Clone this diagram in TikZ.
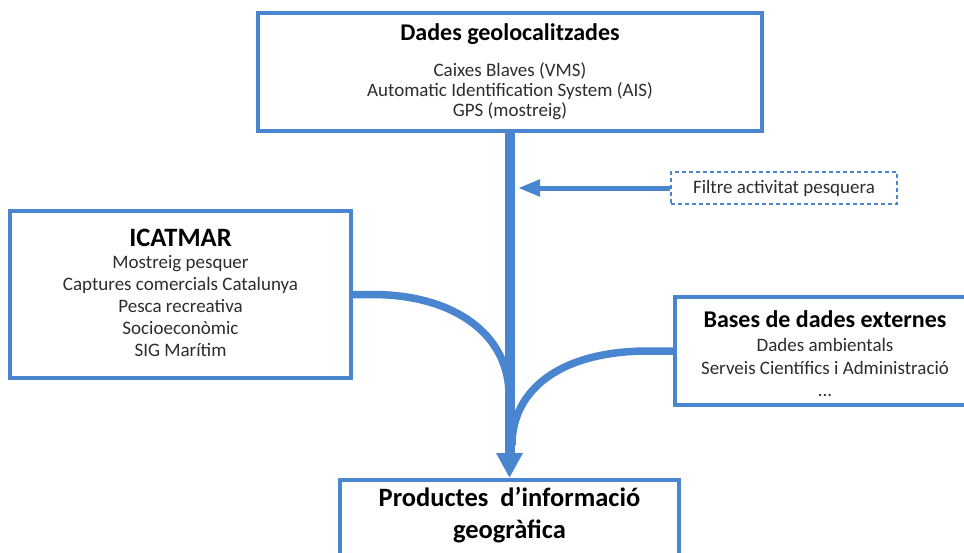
\documentclass[tikz,border=0pt]{standalone}
\usepackage{fontspec}
\setmainfont{Carlito}
\usetikzlibrary{arrows.meta,calc}
\definecolor{fblue}{RGB}{74,134,208}
\definecolor{txt}{RGB}{45,45,45}
\begin{document}
\begin{tikzpicture}[x=1pt,y=-1pt,
  box/.style={draw=fblue,line width=3.5pt,fill=white,inner sep=0pt},
  dbox/.style={draw=fblue,line width=1.2pt,dash pattern=on 4pt off 3pt,fill=white,inner sep=0pt},
  ttl/.style={font=\fontsize{24}{28}\selectfont\bfseries,text=black,inner sep=0pt},
  bigttl/.style={font=\fontsize{26.5}{32}\selectfont\bfseries,text=black,inner sep=0pt,align=center},
  body/.style={font=\fontsize{19}{21}\selectfont,text=txt,inner sep=0pt,align=center},
  flow/.style={draw=fblue,line width=7.5pt},
  mainflow/.style={draw=fblue,line width=10pt,-{Triangle[width=25pt,length=25pt]}},
  filt/.style={draw=fblue,line width=5pt,-{Triangle[width=16pt,length=22pt]}}
]
\useasboundingbox (0,0) rectangle (964,552);
\clip (0,0) rectangle (964,552);
\fill[white] (0,0) rectangle (964,552);

% boxes
\node[box,minimum width=504pt,minimum height=118pt] (top) at (510,72) {};
\node[box,minimum width=341pt,minimum height=167pt] (icat) at (180.5,294.5) {};
\node[box,minimum width=300pt,minimum height=108pt] (bases) at (825,351) {};
\node[box,minimum width=339pt,minimum height=110pt,anchor=north] (bot) at (509.5,478) {};
\node[dbox,minimum width=226pt,minimum height=32pt] (filtre) at (784,188) {};

% texts
\node[ttl] (toptitle) at (510,34) {Dades geolocalitzades};
\node[body,font=\fontsize{19}{20}\selectfont] (topbody) at (510,91) {Caixes Blaves (VMS)\\Automatic Identification System (AIS)\\GPS (mostreig)};
\node[bigttl] (icattitle) at (180.5,237.5) {ICATMAR};
\node[body,font=\fontsize{19}{22}\selectfont] (icatbody) at (180.5,306) {Mostreig pesquer\\Captures comercials Catalunya\\Pesca recreativa\\Socioeconòmic\\SIG Marítim};
\node[ttl] (basestitle) at (825,319) {Bases de dades externes};
\node[body,font=\fontsize{19}{22.5}\selectfont] (basesbody) at (825,367.5) {Dades ambientals\\Serveis Científics i Administració\\...};
\node[body] (filtretext) at (784,188) {Filtre activitat pesquera};
\node[bigttl] (bottext) at (509.5,515) {Productes\ \ d’informació\\[-0.5pt]geogràfica};

% connectors
\coordinate (ftip) at (518,188);
\coordinate (ja) at (509,395);
\coordinate (jb) at (512,445);
\draw[flow] (icat.east) -- ++(21,0) .. controls (455,295) and (509,335) .. (ja);
\draw[flow] (bases.west) -- ++(-25,0) .. controls (560,351) and (512,390) .. (jb);
\draw[mainflow] (top.south -| bot.north) -- (bot.north);
\draw[filt] (filtre.west) -- (ftip);
\end{tikzpicture}
\end{document}
